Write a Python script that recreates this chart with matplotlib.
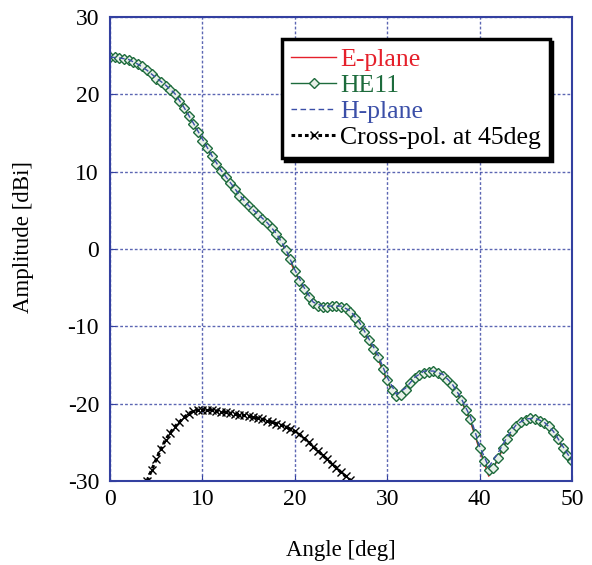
import numpy as np
import matplotlib
matplotlib.use('Agg')
import matplotlib.pyplot as plt

plt.rcParams['font.family'] = ['Liberation Serif', 'DejaVu Serif']
plt.rcParams['axes.unicode_minus'] = False

# HE11 reference pattern, 0.5 deg steps
he11_angle = np.arange(0, 50.01, 0.5)
he11_db = [24.8, 24.8, 24.7, 24.6, 24.4, 24.2, 23.9, 23.6, 23.1, 22.6,
           22.0, 21.6, 21.1, 20.6, 20.0, 19.1, 18.2, 17.2, 16.2, 15.1,
           14.0, 13.0, 12.0, 11.0, 10.1, 9.3, 8.5, 7.7, 6.9, 6.2,
           5.5, 5.0, 4.4, 3.9, 3.3, 2.7, 1.9, 1.0, -0.1, -1.3,
           -2.8, -4.1, -5.2, -6.2, -7.0, -7.4, -7.5, -7.5, -7.4, -7.4,
           -7.5, -7.7, -8.2, -8.9, -9.7, -10.7, -11.8, -12.9, -14.0, -15.5,
           -17.0, -18.3, -19.0, -18.9, -18.2, -17.4, -16.7, -16.3, -16.0, -15.9,
           -15.85, -16.0, -16.4, -16.9, -17.6, -18.5, -19.5, -20.8, -22.0, -24.0,
           -25.8, -27.5, -28.6, -28.4, -27.0, -25.8, -24.6, -23.6, -22.9, -22.4,
           -22.1, -21.9, -22.0, -22.2, -22.5, -22.9, -23.7, -24.6, -25.7, -26.6,
           -27.5]

# E-plane and H-plane, 1 deg steps
eh_angle = np.arange(0, 50.01, 1.0)
e_plane_db = [24.8, 24.7, 24.4, 23.9, 23.0, 22.0, 21.1, 20.0, 18.2, 16.2,
              14.0, 12.0, 10.1, 8.5, 6.9, 5.5, 4.4, 3.3, 1.9, -0.2,
              -3.0, -5.3, -7.1, -7.6, -7.5, -7.6, -8.3, -9.8, -12.0, -14.2,
              -17.2, -19.2, -18.4, -16.8, -16.0, -15.9, -16.5, -17.7, -19.6, -22.3,
              -26.0, -29.4, -27.2, -24.7, -23.0, -22.2, -22.1, -22.6, -23.8, -25.8,
              -27.6]
h_plane_db = [24.8, 24.7, 24.5, 23.9, 23.1, 22.1, 21.2, 20.1, 18.3, 16.3,
              14.2, 12.1, 10.2, 8.6, 7.0, 5.6, 4.5, 3.4, 2.0, 0.0,
              -2.7, -5.0, -6.9, -7.4, -7.4, -7.4, -8.0, -9.5, -11.6, -13.7,
              -16.6, -18.8, -18.0, -16.6, -15.8, -15.8, -16.2, -17.4, -19.3, -21.7,
              -25.5, -28.2, -26.4, -24.3, -22.7, -22.0, -21.9, -22.4, -23.6, -25.5,
              -27.4]

# cross-pol at 45 deg, 0.5 deg steps
xp_angle = np.arange(4.0, 26.51, 0.5)
xp_db = [-30.0, -28.6, -27.2, -25.9, -24.7, -23.8, -23.0, -22.4, -21.8, -21.3,
         -21.0, -20.85, -20.8, -20.8, -20.85, -20.95, -21.05, -21.15, -21.25, -21.35,
         -21.45, -21.55, -21.65, -21.8, -21.9, -22.05, -22.2, -22.4, -22.6, -22.8,
         -23.0, -23.3, -23.6, -24.0, -24.5, -25.0, -25.6, -26.1, -26.7, -27.2,
         -27.8, -28.3, -28.9, -29.4, -29.9, -30.4]

red = '#e5202b'
green = '#1d6b3c'
blue = '#3b4fa8'
frame = '#3340a0'

fig = plt.figure(figsize=(5.92, 5.65), dpi=100)
ax = fig.add_axes([0.186, 0.149, 0.780, 0.821])

ax.plot(eh_angle, e_plane_db, color=red, lw=1.0, label='E-plane')
ax.plot(he11_angle, he11_db, color=green, lw=1.0, marker='D', ms=4.8,
        mfc='#e8f0e8', mec=green, mew=1.0, label='HE11')
ax.plot(eh_angle, h_plane_db, color=blue, lw=1.0, ls=(0, (4, 2.5)), label='H-plane')
ax.plot(xp_angle, xp_db, color='black', lw=2.2, ls=(0, (1.2, 1.0)), marker='x',
        ms=6, mew=1.0, label='Cross-pol. at 45deg')

ax.set_xlim(0, 50)
ax.set_ylim(-30, 30)
ax.set_xticks(range(0, 51, 10))
ax.set_yticks(range(-30, 31, 10))
ax.grid(True, color=frame, ls=(0, (2, 1.5)), lw=1.0, alpha=0.8)
for s in ax.spines.values():
    s.set_color(frame)
    s.set_linewidth(1.5)
ax.tick_params(direction='in', color=frame, length=4, labelsize=17)
ax.tick_params(axis='y', pad=8)
ax.tick_params(axis='x', pad=6)

ax.set_xlabel('Angle [deg]', fontsize=16.5)
ax.set_ylabel('Amplitude [dBi]', fontsize=16.5, va='center')
ax.xaxis.set_label_coords(0.5, -0.128)
ax.yaxis.set_label_coords(-0.188, 0.525)

leg = ax.legend(loc='upper right', bbox_to_anchor=(0.952, 0.953), fontsize=18.5,
                numpoints=1, handlelength=1.75, handletextpad=0.15,
                borderpad=0.35, labelspacing=0.12, fancybox=False,
                shadow={'color': 'black', 'alpha': 1.0}, framealpha=1,
                labelcolor='linecolor', borderaxespad=0)
leg.get_frame().set_edgecolor('black')
leg.get_frame().set_linewidth(2.5)

plt.savefig('out.png', dpi=100)
